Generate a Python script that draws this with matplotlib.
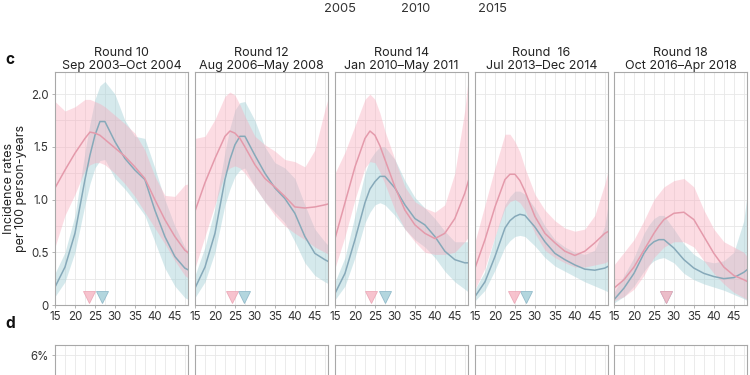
import matplotlib
matplotlib.use("Agg")
import matplotlib.pyplot as plt
from matplotlib.ticker import MultipleLocator

plt.rcParams['font.family'] = ['Inter', 'DejaVu Sans']

ages = [15, 17.5, 20, 22.5, 23.75, 25, 26.25, 27.5, 30, 32.5, 35, 37.5, 40, 42.5, 45, 47.5, 48.5]

titles = ["Round 10\nSep 2003\u2013Oct 2004", "Round 12\nAug 2006\u2013May 2008",
          "Round 14\nJan 2010\u2013May 2011", "Round  16\nJul 2013\u2013Dec 2014",
          "Round 18\nOct 2016\u2013Apr 2018"]

# women
r10_f    = [1.11, 1.28, 1.44, 1.58, 1.64, 1.63, 1.61, 1.57, 1.49, 1.41, 1.31, 1.20, 1.00, 0.81, 0.65, 0.52, 0.49]
r10_f_hi = [1.93, 1.84, 1.88, 1.95, 1.95, 1.93, 1.91, 1.88, 1.80, 1.72, 1.63, 1.47, 1.22, 1.04, 1.03, 1.14, 1.15]
r10_f_lo = [0.55, 0.85, 1.05, 1.28, 1.33, 1.35, 1.35, 1.33, 1.25, 1.15, 1.03, 0.88, 0.73, 0.58, 0.42, 0.28, 0.25]
r12_f    = [0.89, 1.16, 1.39, 1.60, 1.65, 1.63, 1.58, 1.50, 1.33, 1.20, 1.12, 1.03, 0.93, 0.92, 0.93, 0.95, 0.96]
r12_f_hi = [1.58, 1.60, 1.76, 1.98, 2.02, 1.99, 1.90, 1.79, 1.60, 1.52, 1.46, 1.38, 1.36, 1.31, 1.47, 1.85, 1.98]
r12_f_lo = [0.35, 0.65, 0.95, 1.25, 1.30, 1.32, 1.30, 1.25, 1.12, 0.98, 0.85, 0.75, 0.68, 0.62, 0.55, 0.50, 0.48]
r14_f    = [0.63, 0.97, 1.31, 1.58, 1.65, 1.61, 1.51, 1.38, 1.12, 0.90, 0.76, 0.68, 0.63, 0.68, 0.82, 1.06, 1.19]
r14_f_hi = [1.25, 1.45, 1.70, 1.95, 2.00, 1.95, 1.82, 1.65, 1.38, 1.12, 0.98, 0.92, 0.88, 0.95, 1.25, 1.85, 2.20]
r14_f_lo = [0.35, 0.65, 1.00, 1.30, 1.36, 1.35, 1.26, 1.15, 0.90, 0.72, 0.60, 0.50, 0.48, 0.48, 0.50, 0.60, 0.65]
r16_f    = [0.35, 0.62, 0.93, 1.19, 1.24, 1.24, 1.18, 1.08, 0.84, 0.68, 0.59, 0.51, 0.47, 0.51, 0.59, 0.68, 0.70]
r16_f_hi = [0.60, 0.95, 1.30, 1.62, 1.62, 1.55, 1.45, 1.30, 1.05, 0.90, 0.80, 0.73, 0.70, 0.72, 0.85, 1.15, 1.30]
r16_f_lo = [0.15, 0.35, 0.65, 0.92, 0.98, 1.00, 0.97, 0.90, 0.68, 0.52, 0.45, 0.40, 0.36, 0.36, 0.38, 0.40, 0.42]
r18_f    = [0.16, 0.24, 0.36, 0.52, 0.60, 0.68, 0.75, 0.81, 0.87, 0.88, 0.81, 0.65, 0.49, 0.36, 0.28, 0.24, 0.22]
r18_f_hi = [0.38, 0.50, 0.62, 0.80, 0.90, 1.00, 1.06, 1.12, 1.18, 1.20, 1.12, 0.90, 0.72, 0.60, 0.55, 0.50, 0.45]
r18_f_lo = [0.04, 0.08, 0.15, 0.28, 0.37, 0.45, 0.50, 0.55, 0.60, 0.60, 0.55, 0.42, 0.30, 0.20, 0.12, 0.07, 0.05]

# men
r10_m    = [0.17, 0.36, 0.68, 1.19, 1.42, 1.61, 1.74, 1.74, 1.55, 1.39, 1.28, 1.19, 0.90, 0.65, 0.46, 0.35, 0.33]
r10_m_hi = [0.30, 0.50, 0.85, 1.45, 1.72, 1.95, 2.08, 2.12, 2.00, 1.75, 1.60, 1.58, 1.30, 1.00, 0.75, 0.55, 0.50]
r10_m_lo = [0.08, 0.22, 0.50, 0.95, 1.15, 1.30, 1.37, 1.38, 1.20, 1.10, 0.98, 0.85, 0.60, 0.35, 0.18, 0.07, 0.05]
r12_m    = [0.16, 0.36, 0.68, 1.19, 1.38, 1.52, 1.60, 1.60, 1.42, 1.25, 1.11, 1.01, 0.87, 0.65, 0.49, 0.43, 0.41]
r12_m_hi = [0.28, 0.55, 0.92, 1.45, 1.68, 1.85, 1.92, 1.93, 1.75, 1.50, 1.35, 1.30, 1.20, 0.95, 0.72, 0.60, 0.56]
r12_m_lo = [0.07, 0.22, 0.50, 0.95, 1.10, 1.22, 1.28, 1.30, 1.12, 0.98, 0.88, 0.78, 0.60, 0.40, 0.28, 0.22, 0.20]
r14_m    = [0.11, 0.30, 0.62, 0.97, 1.10, 1.17, 1.22, 1.22, 1.11, 0.95, 0.82, 0.76, 0.65, 0.51, 0.43, 0.40, 0.40]
r14_m_hi = [0.22, 0.45, 0.85, 1.25, 1.38, 1.45, 1.50, 1.50, 1.38, 1.18, 1.02, 0.92, 0.82, 0.70, 0.60, 0.60, 0.60]
r14_m_lo = [0.05, 0.18, 0.45, 0.78, 0.88, 0.95, 0.97, 0.95, 0.85, 0.72, 0.62, 0.55, 0.45, 0.32, 0.22, 0.15, 0.12]
r16_m    = [0.08, 0.22, 0.46, 0.73, 0.80, 0.84, 0.86, 0.85, 0.74, 0.60, 0.49, 0.43, 0.38, 0.34, 0.33, 0.35, 0.37]
r16_m_hi = [0.15, 0.32, 0.65, 0.95, 1.03, 1.08, 1.08, 1.05, 0.92, 0.75, 0.62, 0.55, 0.50, 0.48, 0.52, 0.75, 1.00]
r16_m_lo = [0.04, 0.14, 0.33, 0.55, 0.61, 0.65, 0.66, 0.65, 0.56, 0.45, 0.37, 0.32, 0.27, 0.22, 0.18, 0.14, 0.12]
r18_m    = [0.05, 0.16, 0.30, 0.49, 0.56, 0.60, 0.62, 0.62, 0.54, 0.43, 0.35, 0.30, 0.27, 0.25, 0.26, 0.31, 0.34]
r18_m_hi = [0.12, 0.28, 0.45, 0.68, 0.76, 0.82, 0.85, 0.85, 0.72, 0.58, 0.48, 0.42, 0.40, 0.42, 0.50, 0.80, 1.10]
r18_m_lo = [0.02, 0.08, 0.18, 0.32, 0.38, 0.42, 0.44, 0.45, 0.40, 0.30, 0.24, 0.20, 0.17, 0.14, 0.10, 0.06, 0.04]

# median age at infection (triangles)
med_f = [23.5, 24.2, 24.0, 24.8, 28.0]
med_m = [26.8, 27.3, 27.4, 27.8, 28.0]

year_ticks = [2005, 2010, 2015]

fem = [(r10_f, r10_f_lo, r10_f_hi), (r12_f, r12_f_lo, r12_f_hi), (r14_f, r14_f_lo, r14_f_hi),
       (r16_f, r16_f_lo, r16_f_hi), (r18_f, r18_f_lo, r18_f_hi)]
men = [(r10_m, r10_m_lo, r10_m_hi), (r12_m, r12_m_lo, r12_m_hi), (r14_m, r14_m_lo, r14_m_hi),
       (r16_m, r16_m_lo, r16_m_hi), (r18_m, r18_m_lo, r18_m_hi)]

pink_fill = '#f9a9bb'
pink_line = '#e49aab'
blue_fill = '#a3cfd6'
blue_line = '#86a9b9'
spine_c = '#a8a8a8'
txt_c = '#333333'

fig = plt.figure(figsize=(7.5, 3.75), dpi=100)

W, H = 750.0, 375.0
lefts = [55, 195, 335, 475, 614]
pw = 133

def style(ax):
    for s in ax.spines.values():
        s.set_color(spine_c)
        s.set_linewidth(0.8)
    ax.set_xlim(15, 48.3)
    ax.xaxis.set_major_locator(MultipleLocator(5))
    ax.xaxis.set_minor_locator(MultipleLocator(2.5))
    ax.grid(which='both', color='#e8e8e8', linewidth=0.6)
    ax.set_axisbelow(True)
    ax.tick_params(which='minor', length=0)
    ax.tick_params(which='major', length=2.5, width=0.6, color=spine_c,
                   labelsize=8.3, labelcolor=txt_c, pad=2)

# row c
for i in range(5):
    ax = fig.add_axes([lefts[i] / W, (H - 305) / H, pw / W, 233 / H])
    style(ax)
    ax.set_ylim(0, 2.21)
    ax.yaxis.set_major_locator(MultipleLocator(0.5))
    ax.yaxis.set_minor_locator(MultipleLocator(0.25))
    f, flo, fhi = fem[i]
    m, mlo, mhi = men[i]
    ax.fill_between(ages, mlo, mhi, color=blue_fill, alpha=0.45, lw=0)
    ax.fill_between(ages, flo, fhi, color=pink_fill, alpha=0.4, lw=0)
    ax.plot(ages, m, color=blue_line, lw=1.1)
    ax.plot(ages, f, color=pink_line, lw=1.1)
    ax.plot([med_m[i]], [0.075], marker='v', ms=8.5, color='#b3d6de',
            mec='#93bccb', mew=0.6, ls='none')
    ax.plot([med_f[i]], [0.075], marker='v', ms=8.5, color='#f6b9c6',
            mec='#eba3b3', mew=0.6, ls='none', alpha=0.85)
    ax.set_title(titles[i], fontsize=9, color='#222222', pad=2, linespacing=1.15)
    if i == 0:
        ax.set_yticks([0, 0.5, 1.0, 1.5, 2.0])
        ax.set_yticklabels(['0', '0.5', '1.0', '1.5', '2.0'])
        ax.set_ylabel("Incidence rates\nper 100 person-years", fontsize=9,
                      color='#222222', labelpad=3, linespacing=1.05)
    else:
        ax.tick_params(axis='y', which='both', left=False, labelleft=False)

# row d (only its top is in view)
for i in range(5):
    ax = fig.add_axes([lefts[i] / W, -0.48, pw / W, 0.48 + (H - 345) / H])
    style(ax)
    ax.set_ylim(0, 6.3)
    ax.set_yticks([6])
    ax.tick_params(axis='x', labelbottom=False)
    if i == 0:
        ax.set_yticklabels(['6%'])
    else:
        ax.tick_params(axis='y', left=False, labelleft=False)

# tick labels of the panel above (cut off)
axt = fig.add_axes([264 / W, 1.0, 304 / W, 0.2])
axt.set_xlim(2000, 2020)
axt.set_xticks(year_ticks)
axt.tick_params(length=0, labelsize=9.3, labelcolor=txt_c, pad=2.5)
axt.set_yticks([])
for s in axt.spines.values():
    s.set_visible(False)
axt.patch.set_visible(False)

fig.text(5 / W, 1 - 60 / H, 'c', fontsize=11, fontweight='bold', va='center', color='#111111')
fig.text(5 / W, 1 - 323 / H, 'd', fontsize=11, fontweight='bold', va='center', color='#111111')

fig.savefig('out.png', dpi=100)
